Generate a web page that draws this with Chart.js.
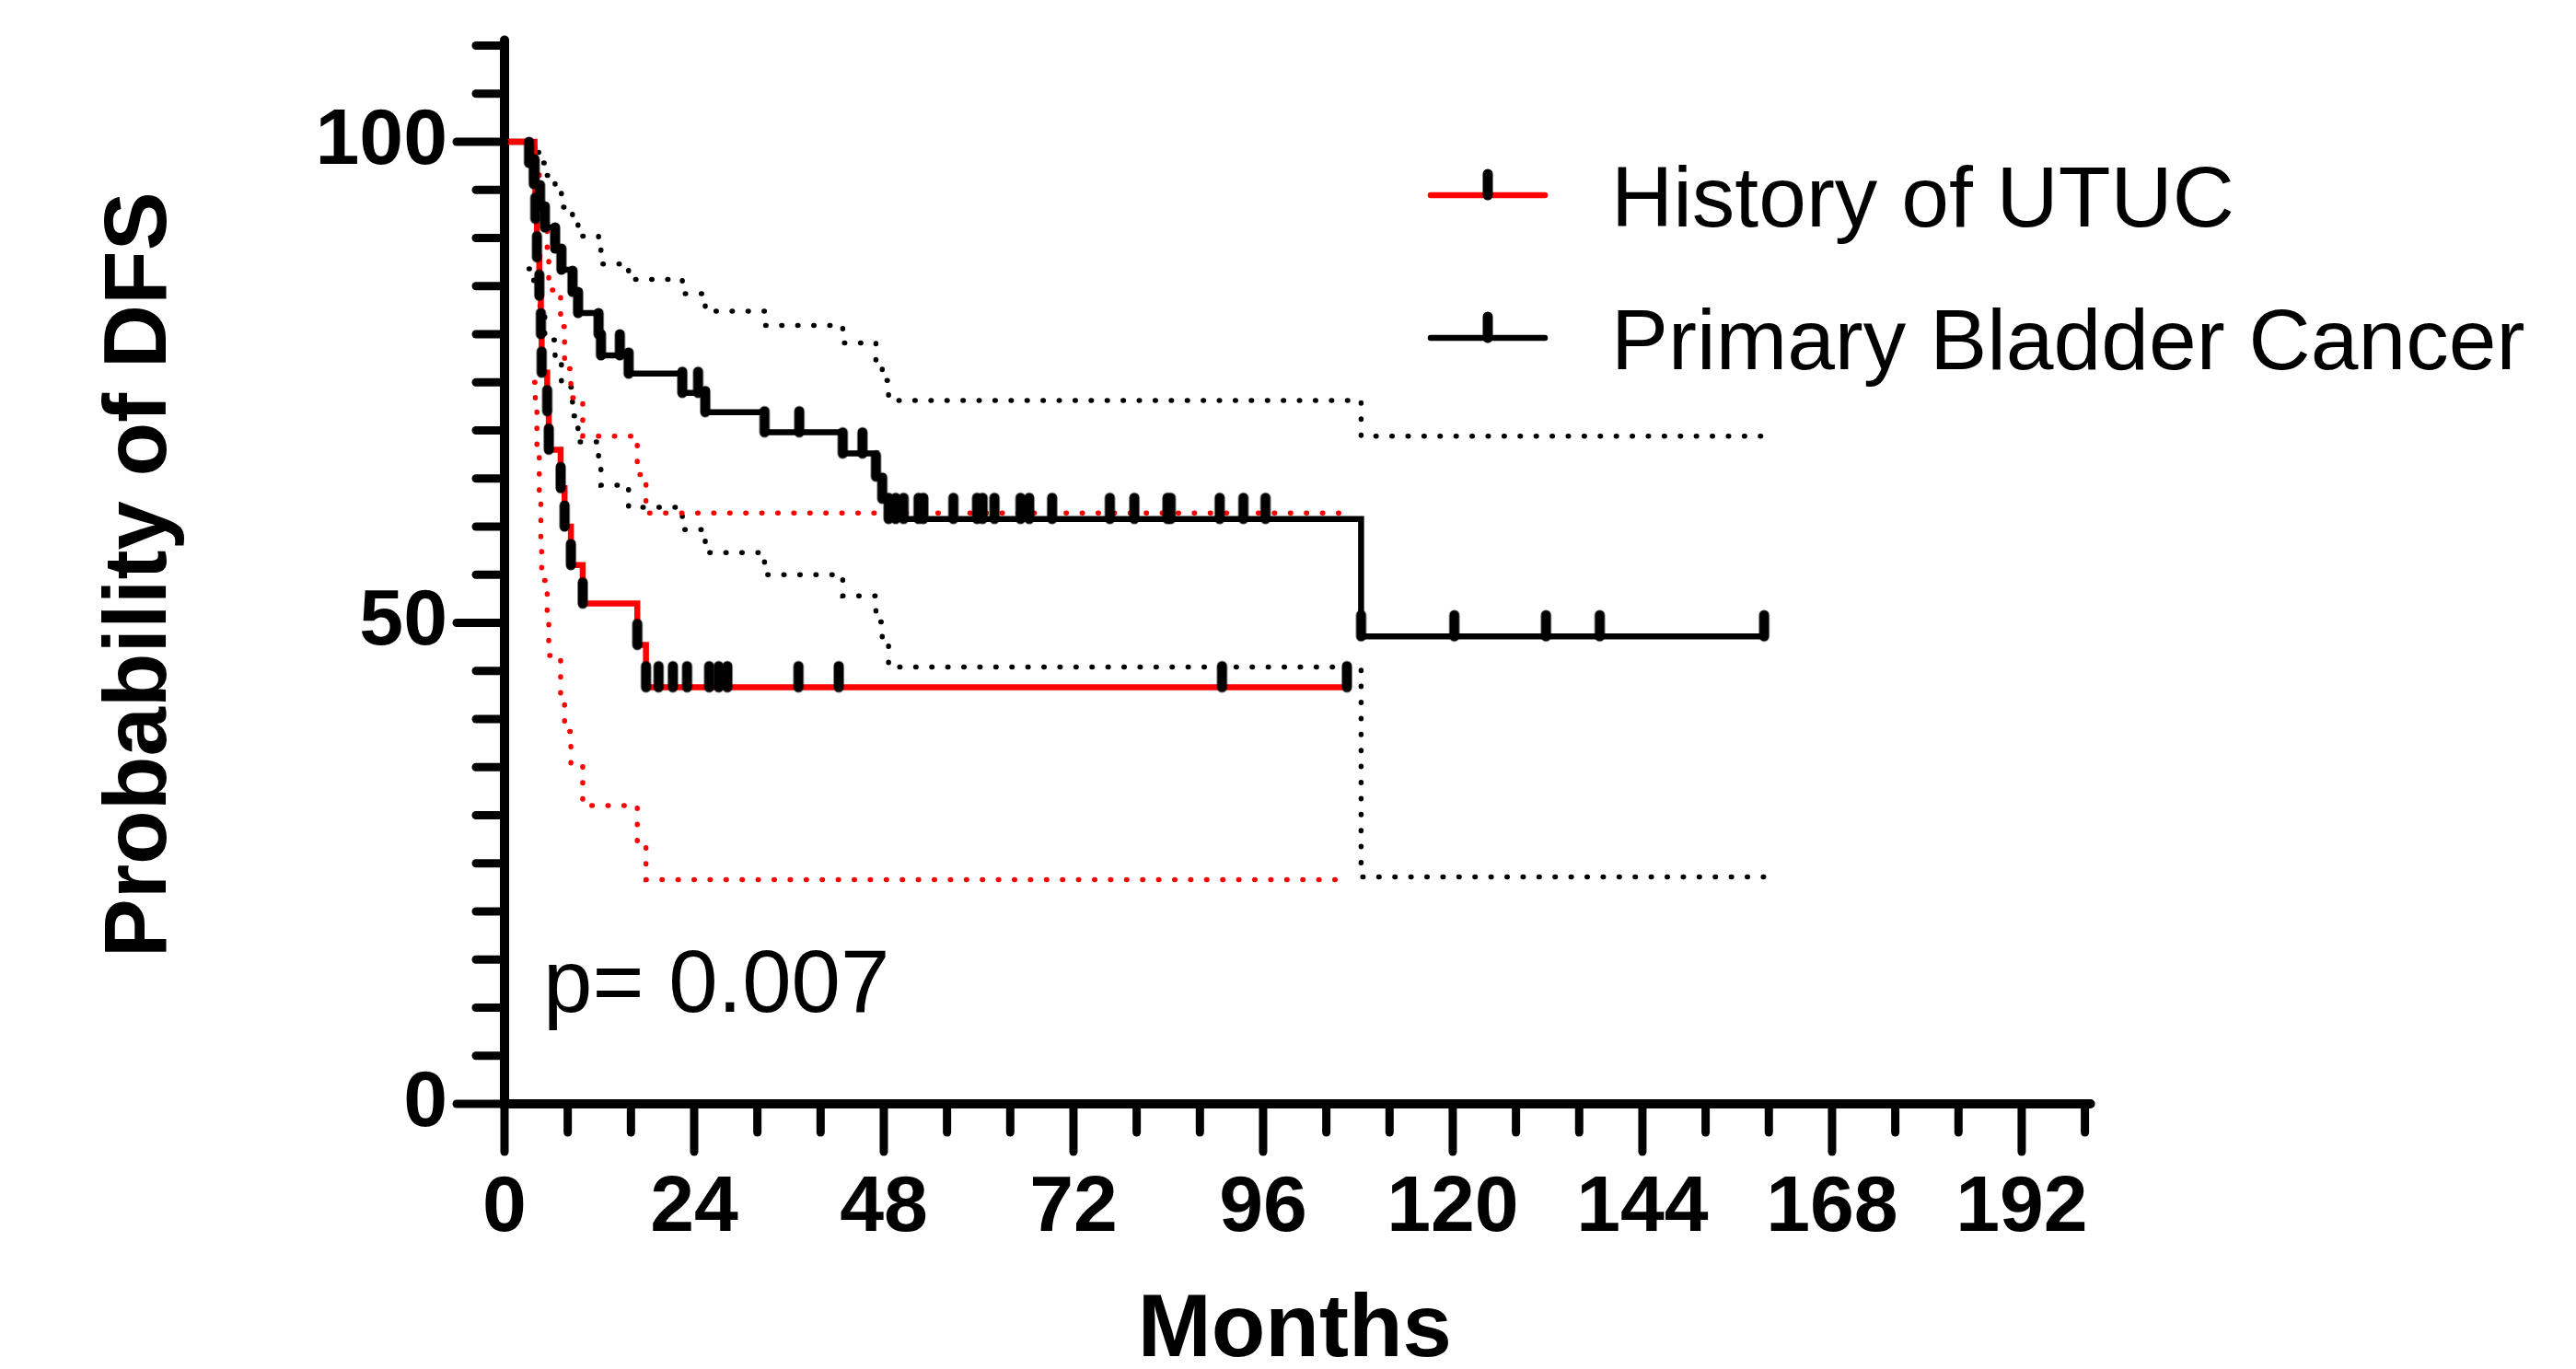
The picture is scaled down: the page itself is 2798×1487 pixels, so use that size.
<!DOCTYPE html>
<html>
<head>
<meta charset="utf-8">
<script src="https://cdn.jsdelivr.net/npm/chart.js@4.4.1/dist/chart.umd.min.js"></script>
<style>
  html, body { margin: 0; padding: 0; background: #fff; }
  canvas { display: block; }
</style>
</head>
<body>
<canvas id="km" width="2798" height="1487"></canvas>
<script>
// Kaplan-Meier steps: month of each step and DFS (%) from that month on
const seriesNames = ["History of UTUC", "Primary Bladder Cancer"];
const seriesColors = ["#ff0000", "#000000"];

const utucMonths = [0, 3.8, 3.9, 4.1, 4.4, 4.6, 4.7, 5.4, 5.6, 7.1, 7.6, 8.4, 9.9, 16.8, 17.9];
const utucSurvival = [100, 96, 92, 88, 84, 80, 76, 72, 68, 64, 60, 56, 52, 47.7, 43.3];
// confidence band, one value per step from the first event on
const utucUpper = [99.4, 98.4, 97.0, 95.4, 93.8, 92.0, 87.7, 84.6, 80.8, 76.4, 73.4, 69.4, 65.4, 61.4];
const utucLower = [75.0, 72.0, 68.5, 63.5, 58.7, 54.4, 50.3, 46.6, 42.5, 38.7, 35.2, 31.0, 27.0, 23.3];
const utucCensored = [19.5, 21.3, 23.1, 25.9, 27.1, 28.2, 37.2, 42.3, 90.8, 106.6];
const utucLastMonth = 106.6;

const bladderMonths = [0, 3.1, 3.7, 4.5, 5.1, 6.4, 7.2, 8.6, 9.3, 11.9, 12.2, 15.7, 22.5, 25.4, 32.9, 42.8, 47.0, 47.8, 48.6, 108.4];
const bladderSurvival = [100, 97.8, 95.6, 93.3, 91.1, 88.9, 86.7, 84.4, 82.2, 80.0, 77.8, 75.9, 73.9, 71.9, 69.8, 67.6, 65.2, 62.9, 60.8, 48.6];
const bladderUpper = [99.6, 98.9, 97.8, 96.5, 95.0, 93.2, 91.7, 90.2, 88.8, 87.3, 85.7, 84.2, 82.4, 80.9, 79.1, 77.2, 75.2, 73.1, 69.4];
const bladderLower = [86.8, 84.5, 82.0, 79.4, 77.0, 74.5, 71.5, 68.8, 66.5, 64.3, 62.0, 59.7, 57.3, 55.0, 52.8, 50.1, 47.6, 45.4, 23.6];
const bladderCensored = [14.6, 24.5, 37.3, 45.3, 49.5, 50.5, 52.4, 53.0, 56.8, 59.8, 60.5, 62.0, 65.3, 66.4, 69.3, 76.6, 79.7, 83.9, 84.3, 90.5, 93.5, 96.3, 120.2, 131.8, 138.6, 159.4];
const bladderLastMonth = 159.4;

const pValueText = "p= 0.007";

const FONT = "'Liberation Sans', Arial, sans-serif";

function stepPoints(months, values, lastMonth) {
  const pts = months.map((m, i) => ({ x: m, y: values[i] }));
  pts.push({ x: lastMonth, y: values[values.length - 1] });
  return pts;
}

function valueAt(months, values, t) {
  let v = values[0];
  months.forEach((m, i) => { if (m <= t) v = values[i]; });
  return v;
}

function tickPoints(months, values, censored) {
  const times = months.slice(1).concat(censored);
  return times.map((t) => ({ x: t, y: valueAt(months, values, t) }));
}

// censor mark: short vertical bar standing on the curve
function makeTick() {
  const c = document.createElement("canvas");
  c.width = 16;
  c.height = 66;
  const g = c.getContext("2d");
  g.strokeStyle = "#000";
  g.lineWidth = 11;
  g.lineCap = "round";
  g.beginPath();
  g.moveTo(8, 10);
  g.lineTo(8, 33);
  g.stroke();
  return c;
}
const tickImg = makeTick();

function curve(label, color, data, order) {
  return {
    label, data, order,
    borderColor: color,
    borderWidth: 6.5,
    stepped: true,
    pointRadius: 0,
    fill: false,
  };
}

function band(color, months, values, lastMonth) {
  return {
    data: stepPoints(months.slice(1), values, lastMonth),
    order: 4,
    borderColor: color,
    borderWidth: 5.5,
    borderDash: [0.5, 16.9],
    borderCapStyle: "round",
    stepped: true,
    pointRadius: 0,
    fill: false,
  };
}

function ticks(data) {
  return {
    data, order: 0,
    showLine: false,
    pointStyle: tickImg,
    pointRadius: 5,
  };
}

const axisTicks = {
  id: "axisTicks",
  afterDraw(chart) {
    const { ctx, chartArea } = chart;
    const x = chart.scales.x;
    const y = chart.scales.y;
    ctx.save();
    ctx.strokeStyle = "#000";
    ctx.lineCap = "round";
    // axis ends run a little past the last ticks
    ctx.lineWidth = 10;
    ctx.beginPath();
    ctx.moveTo(chartArea.left, chartArea.top + 4);
    ctx.lineTo(chartArea.left, chartArea.top - 6);
    ctx.moveTo(chartArea.right - 4, chartArea.bottom);
    ctx.lineTo(chartArea.right + 6, chartArea.bottom);
    ctx.stroke();
    ctx.lineWidth = 9;
    for (let m = 0; m <= 200; m += 8) {
      const px = x.getPixelForValue(m);
      const len = m % 24 === 0 ? 52 : 31;
      ctx.beginPath();
      ctx.moveTo(px, chartArea.bottom);
      ctx.lineTo(px, chartArea.bottom + len);
      ctx.stroke();
    }
    for (let v = 0; v <= 110; v += 5) {
      const py = y.getPixelForValue(v);
      const len = v % 50 === 0 ? 52 : 31;
      ctx.beginPath();
      ctx.moveTo(chartArea.left, py);
      ctx.lineTo(chartArea.left - len, py);
      ctx.stroke();
    }
    ctx.restore();
  },
};

const legendAndNote = {
  id: "legendAndNote",
  afterDraw(chart) {
    const ctx = chart.ctx;
    ctx.save();
    const lineY = [212, 367];
    seriesNames.forEach((name, i) => {
      ctx.strokeStyle = seriesColors[i];
      ctx.lineWidth = 6.5;
      ctx.lineCap = "round";
      ctx.beginPath();
      ctx.moveTo(1554, lineY[i]);
      ctx.lineTo(1678, lineY[i]);
      ctx.stroke();
      ctx.drawImage(tickImg, 1616 - 8, lineY[i] - 33);
      ctx.fillStyle = "#000";
      ctx.font = "93px " + FONT;
      ctx.textBaseline = "alphabetic";
      ctx.textAlign = "left";
      ctx.fillText(name, 1750, lineY[i] + 34);
    });
    ctx.font = "96px " + FONT;
    ctx.fillText(pValueText, 590, 1099);
    ctx.restore();
  },
};

new Chart(document.getElementById("km"), {
  type: "line",
  data: {
    datasets: [
      ticks(tickPoints(bladderMonths, bladderSurvival, bladderCensored)),
      ticks(tickPoints(utucMonths, utucSurvival, utucCensored)),
      curve(seriesNames[0], seriesColors[0], stepPoints(utucMonths, utucSurvival, utucLastMonth), 1),
      curve(seriesNames[1], seriesColors[1], stepPoints(bladderMonths, bladderSurvival, bladderLastMonth), 2),
      band(seriesColors[0], utucMonths, utucUpper, utucLastMonth),
      band(seriesColors[0], utucMonths, utucLower, utucLastMonth),
      band(seriesColors[1], bladderMonths, bladderUpper, bladderLastMonth),
      band(seriesColors[1], bladderMonths, bladderLower, bladderLastMonth),
    ],
  },
  options: {
    responsive: false,
    animation: false,
    devicePixelRatio: 1,
    layout: { padding: { top: 49.5, right: 533.4, left: 0, bottom: 0 } },
    plugins: {
      legend: { display: false },
      tooltip: { enabled: false },
    },
    scales: {
      x: {
        type: "linear",
        min: 0,
        max: 200,
        afterFit: (s) => { s.height = 288; s.paddingLeft = 0; s.paddingRight = 0; },
        border: { display: true, color: "#000", width: 10 },
        grid: { drawOnChartArea: false, drawTicks: true, tickLength: 52, tickColor: "rgba(0,0,0,0)" },
        ticks: {
          stepSize: 24,
          includeBounds: false,
          color: "#000",
          padding: 11,
          maxRotation: 0,
          font: { family: FONT, size: 86, weight: "bold", lineHeight: 1.2 },
        },
        title: {
          display: true,
          text: "Months",
          color: "#000",
          padding: { top: 0, bottom: 0 },
          font: { family: FONT, size: 96, weight: "bold", lineHeight: 0.85 },
        },
      },
      y: {
        min: 0,
        max: 110,
        afterFit: (s) => { s.width = 548; s.paddingTop = 0; s.paddingBottom = 0; },
        border: { display: true, color: "#000", width: 10 },
        grid: { drawOnChartArea: false, drawTicks: true, tickLength: 52, tickColor: "rgba(0,0,0,0)" },
        ticks: {
          stepSize: 50,
          includeBounds: false,
          color: "#000",
          padding: 10,
          font: { family: FONT, size: 86, weight: "bold", lineHeight: 1.0 },
        },
        title: {
          display: true,
          text: "Probability of DFS",
          color: "#000",
          padding: { top: 106, bottom: 0 },
          font: { family: FONT, size: 96, weight: "bold", lineHeight: 1.0 },
        },
      },
    },
  },
  plugins: [axisTicks, legendAndNote],
});
</script>
</body>
</html>
